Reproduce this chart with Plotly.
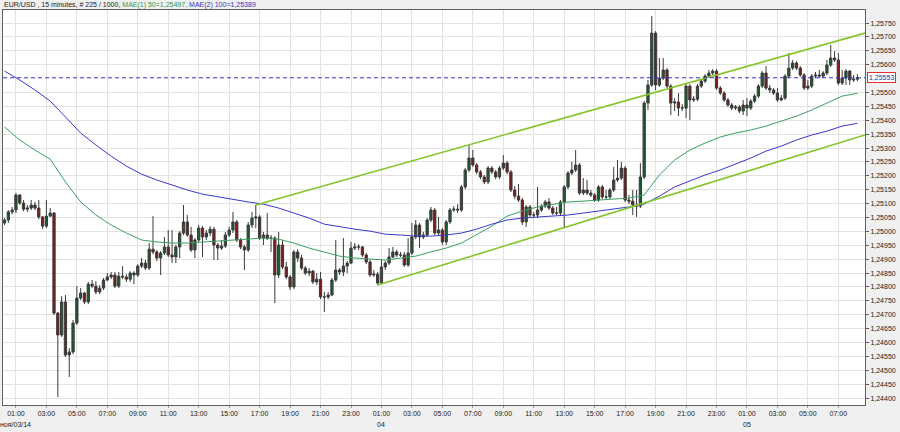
import pandas as pd
import plotly.graph_objects as go

# ---------------- data (EUR/USD, 15 minute bars) ----------------
start = "2014-11-03 00:15"
first_open = 1.25030
closes = [
    1.25041, 1.25070, 1.25077, 1.25131, 1.25102, 1.25080, 1.25084, 1.25095, 1.25084, 1.25052,
    1.25019, 1.25055, 1.25066, 1.24706, 1.24627, 1.24746, 1.24555, 1.24566, 1.24670, 1.24760,
    1.24778, 1.24746, 1.24810, 1.24803, 1.24782, 1.24796, 1.24825, 1.24836, 1.24843, 1.24803,
    1.24839, 1.24836, 1.24828, 1.24850, 1.24843, 1.24875, 1.24886, 1.24868, 1.24936, 1.24926,
    1.24904, 1.24922, 1.24944, 1.24915, 1.24908, 1.24944, 1.24994, 1.25034, 1.24987, 1.24933,
    1.24969, 1.25012, 1.24980, 1.24994, 1.25008, 1.24951, 1.24940, 1.24947, 1.24987, 1.25005,
    1.25034, 1.24969, 1.24944, 1.24933, 1.25023, 1.25048, 1.25052, 1.24976, 1.24987, 1.24976,
    1.24976, 1.24843, 1.24951, 1.24872, 1.24836, 1.24800, 1.24926, 1.24904, 1.24868, 1.24850,
    1.24857, 1.24818, 1.24828, 1.24764, 1.24764, 1.24771, 1.24825, 1.24861, 1.24854, 1.24875,
    1.24886, 1.24940, 1.24944, 1.24944, 1.24915, 1.24890, 1.24843, 1.24846, 1.24814, 1.24872,
    1.24886, 1.24908, 1.24926, 1.24915, 1.24915, 1.24879, 1.24922, 1.24980, 1.25023, 1.24980,
    1.24987, 1.25041, 1.25077, 1.24994, 1.25005, 1.24962, 1.25034, 1.25077, 1.25080, 1.25077,
    1.25160, 1.25221, 1.25264, 1.25239, 1.25214, 1.25196, 1.25178, 1.25228, 1.25214, 1.25196,
    1.25228, 1.25246, 1.25214, 1.25149, 1.25127, 1.25113, 1.25034, 1.25088, 1.25059, 1.25059,
    1.25077, 1.25091, 1.25106, 1.25084, 1.25066, 1.25066, 1.25106, 1.25160, 1.25210, 1.25221,
    1.25239, 1.25138, 1.25149, 1.25138, 1.25131, 1.25113, 1.25160, 1.25124, 1.25124, 1.25149,
    1.25185, 1.25192, 1.25228, 1.25113, 1.25109, 1.25095, 1.25091, 1.25196, 1.25462, 1.25527,
    1.25714, 1.25527, 1.25552, 1.25581, 1.25523, 1.25462, 1.25466, 1.25444, 1.25444, 1.25523,
    1.25473, 1.25476, 1.25523, 1.25541, 1.25559, 1.25570, 1.25577, 1.25516, 1.25498, 1.25473,
    1.25455, 1.25444, 1.25448, 1.25433, 1.25455, 1.25444, 1.25469, 1.25487, 1.25523, 1.25570,
    1.25516, 1.25509, 1.25498, 1.25473, 1.25480, 1.25559, 1.25588, 1.25606, 1.25588, 1.25563,
    1.25516, 1.25523, 1.25559, 1.25563, 1.25559, 1.25570, 1.25599, 1.25624, 1.25617, 1.25534,
    1.25552, 1.25577, 1.25545, 1.25548, 1.25553,
]
highs = [
    1.25048, 1.25077, 1.25088, 1.25138, 1.25134, 1.25113, 1.25095, 1.25113, 1.25106, 1.25113,
    1.25055, 1.25113, 1.25084, 1.25070, 1.24710, 1.24767, 1.24771, 1.24580, 1.24681, 1.24803,
    1.24796, 1.24782, 1.24818, 1.24825, 1.24821, 1.24807, 1.24832, 1.24850, 1.24854, 1.24854,
    1.24854, 1.24875, 1.24846, 1.24857, 1.24857, 1.24882, 1.24904, 1.24897, 1.24958, 1.25055,
    1.24933, 1.24929, 1.24980, 1.25005, 1.25005, 1.24951, 1.25001, 1.25095, 1.25059, 1.25016,
    1.24976, 1.25023, 1.25019, 1.25005, 1.25019, 1.25016, 1.24958, 1.24969, 1.24998, 1.25016,
    1.25070, 1.25041, 1.24976, 1.24951, 1.25034, 1.25070, 1.25095, 1.25059, 1.24998, 1.25066,
    1.24987, 1.24983, 1.24998, 1.24969, 1.24890, 1.24843, 1.24933, 1.24936, 1.24915, 1.24875,
    1.24868, 1.24861, 1.24850, 1.24854, 1.24782, 1.24782, 1.24832, 1.24969, 1.24868, 1.24976,
    1.24893, 1.24962, 1.24958, 1.24954, 1.24947, 1.24922, 1.24897, 1.24861, 1.24854, 1.24897,
    1.24893, 1.24940, 1.24944, 1.24933, 1.24926, 1.24926, 1.24976, 1.25030, 1.25041, 1.25030,
    1.24998, 1.25048, 1.25088, 1.25084, 1.25052, 1.25012, 1.25041, 1.25084, 1.25091, 1.25098,
    1.25167, 1.25228, 1.25311, 1.25293, 1.25246, 1.25221, 1.25203, 1.25235, 1.25235, 1.25221,
    1.25235, 1.25275, 1.25253, 1.25221, 1.25163, 1.25170, 1.25120, 1.25095, 1.25095, 1.25070,
    1.25160, 1.25098, 1.25113, 1.25120, 1.25091, 1.25088, 1.25113, 1.25167, 1.25217, 1.25250,
    1.25293, 1.25246, 1.25192, 1.25185, 1.25149, 1.25138, 1.25167, 1.25167, 1.25149, 1.25156,
    1.25232, 1.25257, 1.25250, 1.25235, 1.25131, 1.25149, 1.25149, 1.25246, 1.25469, 1.25545,
    1.25775, 1.25721, 1.25624, 1.25624, 1.25588, 1.25530, 1.25480, 1.25498, 1.25458, 1.25530,
    1.25530, 1.25487, 1.25530, 1.25548, 1.25566, 1.25581, 1.25584, 1.25584, 1.25523, 1.25505,
    1.25480, 1.25462, 1.25455, 1.25455, 1.25473, 1.25480, 1.25476, 1.25494, 1.25530, 1.25577,
    1.25595, 1.25527, 1.25516, 1.25516, 1.25491, 1.25566, 1.25642, 1.25617, 1.25613, 1.25595,
    1.25570, 1.25545, 1.25566, 1.25574, 1.25581, 1.25577, 1.25617, 1.25671, 1.25649, 1.25642,
    1.25581, 1.25584, 1.25581, 1.25563, 1.25566,
]
lows = [
    1.25023, 1.25030, 1.25062, 1.25066, 1.25095, 1.25073, 1.25070, 1.25077, 1.25077, 1.25044,
    1.25008, 1.25012, 1.25052, 1.24699, 1.24404, 1.24620, 1.24548, 1.24476, 1.24558, 1.24663,
    1.24753, 1.24738, 1.24738, 1.24796, 1.24774, 1.24774, 1.24789, 1.24821, 1.24828, 1.24796,
    1.24796, 1.24828, 1.24818, 1.24818, 1.24810, 1.24836, 1.24868, 1.24861, 1.24861, 1.24918,
    1.24893, 1.24843, 1.24915, 1.24908, 1.24886, 1.24886, 1.24904, 1.24987, 1.24980, 1.24926,
    1.24904, 1.24962, 1.24908, 1.24969, 1.24983, 1.24897, 1.24897, 1.24933, 1.24940, 1.24980,
    1.24994, 1.24962, 1.24936, 1.24861, 1.24926, 1.25012, 1.25012, 1.24969, 1.24951, 1.24969,
    1.24926, 1.24742, 1.24832, 1.24864, 1.24828, 1.24789, 1.24792, 1.24890, 1.24861, 1.24843,
    1.24839, 1.24810, 1.24807, 1.24756, 1.24710, 1.24756, 1.24767, 1.24818, 1.24843, 1.24839,
    1.24850, 1.24882, 1.24933, 1.24933, 1.24908, 1.24882, 1.24836, 1.24836, 1.24807, 1.24810,
    1.24861, 1.24879, 1.24904, 1.24908, 1.24908, 1.24872, 1.24872, 1.24915, 1.24972, 1.24940,
    1.24972, 1.24980, 1.25034, 1.24987, 1.24987, 1.24951, 1.24951, 1.25026, 1.25070, 1.25066,
    1.25070, 1.25152, 1.25214, 1.25232, 1.25206, 1.25188, 1.25170, 1.25170, 1.25206, 1.25188,
    1.25188, 1.25221, 1.25206, 1.25142, 1.25116, 1.25106, 1.25023, 1.25016, 1.25052, 1.25048,
    1.25048, 1.25070, 1.25084, 1.25077, 1.25059, 1.25059, 1.25059, 1.25012, 1.25152, 1.25203,
    1.25214, 1.25131, 1.25131, 1.25131, 1.25124, 1.25106, 1.25106, 1.25116, 1.25116, 1.25116,
    1.25142, 1.25178, 1.25185, 1.25106, 1.25098, 1.25059, 1.25052, 1.25084, 1.25188, 1.25437,
    1.25520, 1.25509, 1.25520, 1.25545, 1.25516, 1.25419, 1.25433, 1.25415, 1.25433, 1.25408,
    1.25401, 1.25466, 1.25469, 1.25516, 1.25534, 1.25552, 1.25563, 1.25509, 1.25491, 1.25466,
    1.25448, 1.25437, 1.25437, 1.25426, 1.25419, 1.25415, 1.25437, 1.25462, 1.25480, 1.25516,
    1.25509, 1.25498, 1.25491, 1.25466, 1.25469, 1.25473, 1.25552, 1.25581, 1.25581, 1.25556,
    1.25509, 1.25509, 1.25516, 1.25552, 1.25552, 1.25552, 1.25563, 1.25592, 1.25610, 1.25527,
    1.25527, 1.25527, 1.25527, 1.25538, 1.25541,
]
opens = [first_open] + closes[:-1]
times = pd.date_range(start, periods=len(closes), freq="15min")

# moving averages
ma50 = [
    1.25376, 1.25329, 1.25293, 1.25260, 1.25178, 1.25106, 1.25059, 1.25023, 1.24994, 1.24969,
    1.24962, 1.24958, 1.24958, 1.24962, 1.24965, 1.24969, 1.24972, 1.24976, 1.24972, 1.24958,
    1.24940, 1.24926, 1.24911, 1.24904, 1.24900, 1.24897, 1.24904, 1.24911, 1.24926, 1.24940,
    1.24958, 1.24987, 1.25019, 1.25055, 1.25073, 1.25088, 1.25098, 1.25106, 1.25109, 1.25113,
    1.25116, 1.25120, 1.25131, 1.25203, 1.25257, 1.25293, 1.25318, 1.25340, 1.25354, 1.25365,
    1.25379, 1.25397, 1.25415, 1.25437, 1.25462, 1.25487, 1.25497,
]
ma100 = [
    1.25577, 1.25545, 1.25509, 1.25469, 1.25412, 1.25354, 1.25311, 1.25271, 1.25235, 1.25206,
    1.25185, 1.25167, 1.25149, 1.25134, 1.25124, 1.25116, 1.25106, 1.25098, 1.25084, 1.25066,
    1.25048, 1.25026, 1.25016, 1.25008, 1.25001, 1.24990, 1.24987, 1.24983, 1.24983, 1.24987,
    1.24994, 1.25008, 1.25026, 1.25041, 1.25048, 1.25052, 1.25055, 1.25059, 1.25066, 1.25073,
    1.25080, 1.25088, 1.25098, 1.25127, 1.25160, 1.25181, 1.25203, 1.25221, 1.25242, 1.25264,
    1.25289, 1.25307, 1.25329, 1.25347, 1.25361, 1.25379, 1.25389,
]
ma_times = pd.date_range(start, periods=len(ma50), freq="60min")

upper_channel_t = ["2014-11-03 16:45", "2014-11-05 08:45"]
upper_channel_p = [1.25095, 1.25714]
lower_channel_t = ["2014-11-04 00:45", "2014-11-05 08:45"]
lower_channel_p = [1.24807, 1.25347]
last_price = 1.25553

y_tick_vals = [1.2440, 1.2445, 1.2450, 1.2455, 1.2460, 1.2465, 1.2470, 1.2475, 1.2480,
               1.2485, 1.2490, 1.2495, 1.2500, 1.2505, 1.2510, 1.2515, 1.2520, 1.2525,
               1.2530, 1.2535, 1.2540, 1.2545, 1.2550, 1.2560, 1.2565, 1.2570, 1.2575]
y_tick_text = ["1,24400", "1,24450", "1,24500", "1,24550", "1,24600", "1,24650", "1,24700",
               "1,24750", "1,24800", "1,24850", "1,24900", "1,24950", "1,25000", "1,25050",
               "1,25100", "1,25150", "1,25200", "1,25250", "1,25300", "1,25350", "1,25400",
               "1,25450", "1,25500", "1,25600", "1,25650", "1,25700", "1,25750"]
x_tick_vals = pd.date_range("2014-11-03 01:00", "2014-11-05 07:00", freq="2h")
x_tick_text = ["01:00", "03:00", "05:00", "07:00", "09:00", "11:00", "13:00",
               "15:00", "17:00", "19:00", "21:00", "23:00",
               "01:00", "03:00", "05:00", "07:00", "09:00", "11:00", "13:00",
               "15:00", "17:00", "19:00", "21:00", "23:00",
               "01:00", "03:00", "05:00", "07:00"]
date_label_t = ["2014-11-03 01:00", "2014-11-04 01:00", "2014-11-05 01:00"]
date_label_text = ["ноя/03/14", "04", "05"]

header = ("EUR/USD , 15 minutes, # 225 / 1000, "
          "<span style='color:#2c9a52'>MAE(1) 50=1,25497,</span> "
          "<span style='color:#3434c4'>MAE(2) 100=1,25389</span>")

FONT = "Liberation Sans, Arial, sans-serif"

# ---------------- figure ----------------
fig = go.Figure()
fig.add_trace(go.Candlestick(
    x=times, open=opens, high=highs, low=lows, close=closes,
    increasing=dict(line=dict(color="#3a3a3a", width=1), fillcolor="#1d5c2c"),
    decreasing=dict(line=dict(color="#3a3a3a", width=1), fillcolor="#7b1b1b"),
    whiskerwidth=0, hoverinfo="skip",
))
fig.add_trace(go.Scatter(x=ma_times, y=ma50, mode="lines",
                         line=dict(color="#3aa060", width=1), hoverinfo="skip"))
fig.add_trace(go.Scatter(x=ma_times, y=ma100, mode="lines",
                         line=dict(color="#3838cc", width=1), hoverinfo="skip"))
fig.add_trace(go.Scatter(x=upper_channel_t, y=upper_channel_p, mode="lines",
                         line=dict(color="#84c52a", width=1.6), hoverinfo="skip"))
fig.add_trace(go.Scatter(x=lower_channel_t, y=lower_channel_p, mode="lines",
                         line=dict(color="#84c52a", width=1.6), hoverinfo="skip"))

fig.add_shape(type="line", xref="paper", x0=0, x1=1, yref="y", y0=last_price, y1=last_price,
              line=dict(color="#3232d0", width=1, dash="4px,3px"))

fig.add_annotation(xref="paper", yref="paper", x=0, y=1, xanchor="left", yanchor="bottom",
                   xshift=-1, yshift=-1, text=header, showarrow=False,
                   font=dict(size=7, color="#202020", family=FONT))
fig.add_annotation(xref="paper", yref="y", x=1, y=last_price, xanchor="left", yanchor="middle",
                   xshift=2, text="1,25553", showarrow=False,
                   font=dict(size=7, color="#303090", family=FONT), bgcolor="white",
                   bordercolor="#e03030", borderwidth=1, borderpad=1)
for t, txt in zip(date_label_t, date_label_text):
    fig.add_annotation(xref="x", yref="paper", x=t, y=0, xanchor="center", yanchor="middle",
                       yshift=-19, text=txt, showarrow=False,
                       font=dict(size=7, color="#202020", family=FONT))

fig.update_layout(
    width=900, height=432,
    margin=dict(l=3, r=35, t=10, b=27, autoexpand=False),
    paper_bgcolor="#f0f0f0", plot_bgcolor="white",
    showlegend=False, separators=",.", boxgap=0.15,
    font=dict(family=FONT, size=7, color="#202020"),
)
fig.update_xaxes(
    automargin=False,
    range=["2014-11-03 00:09", "2014-11-05 08:45"],
    tickmode="array", tickvals=x_tick_vals, ticktext=x_tick_text,
    showgrid=True, gridcolor="#e2e2e2", gridwidth=1,
    showline=True, linecolor="#606060", linewidth=1, mirror=True,
    ticks="outside", ticklen=2, tickcolor="#a0a0a0",
    rangeslider=dict(visible=False), zeroline=False,
    tickfont=dict(size=7),
)
fig.update_yaxes(
    automargin=False,
    side="right", range=[1.24375, 1.25797],
    tickmode="array", tickvals=y_tick_vals, ticktext=y_tick_text,
    showgrid=True, gridcolor="#e2e2e2", gridwidth=1,
    showline=True, linecolor="#606060", linewidth=1, mirror=True,
    ticks="outside", ticklen=3, tickcolor="#606060",
    zeroline=False, tickfont=dict(size=7),
)

fig.write_html(
    "out.html",
    config={"displayModeBar": False, "staticPlot": True},
    post_script="document.body.style.margin='0';document.body.style.overflow='hidden';",
)
